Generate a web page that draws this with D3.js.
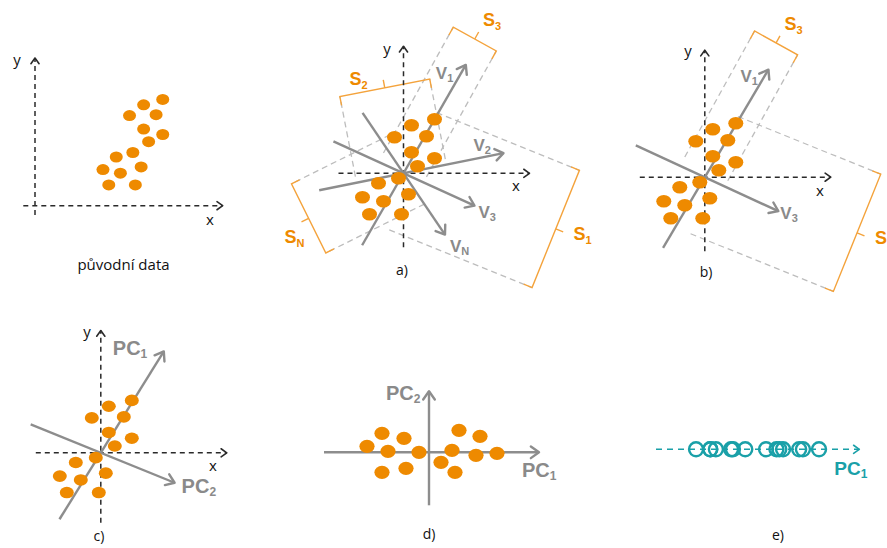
<!DOCTYPE html>
<html>
<head>
<meta charset="utf-8">
<script src="https://cdn.jsdelivr.net/npm/d3@7"></script>
<style>
  body { margin: 0; background: #fff; }
  svg { display: block; }
</style>
</head>
<body>
<svg id="chart" width="887" height="548"></svg>
<script>
// ---- data -------------------------------------------------------------
// Observations, centred on their mean (x, y)
const sampleX = [31, 8, -9, 23, 8, 31, 14, -5, -25, 5, -41, -20, -34, -2];
const sampleY = [54, 48, 36, 37, 21, 15, 7, -5, -10, -21, -24, -28, -41, -41];

// Scores of the same observations on the principal components
const scorePC1 = [-62, -47, -25, -41, -10, -47, -23, 30, 51, 23, 47, 68, 12, 26];
const scorePC2 = [6, 19, 14, 1, 0, -20, -16, 22, 16, 2, -3, -1, -10, -20];

// Candidate directions v_i (degrees, counter-clockwise from x)
const dirSubsA = ["1", "2", "3", "N"];
const dirAnglesA = [60.1, 11.4, -24.5, -55.9];
const dirSubsB = ["1", "3"];
const dirAnglesB = [59.4, -24.8];
// Principal component directions
const pcSubs = ["1", "2"];
const pcAngles = [58.9, -22.7];

// Spread brackets S_i: direction of the guide lines (degrees)
const spreadSubsA = ["1", "2", "3", "N"];
const spreadAnglesA = [-22, 101, 61, -153.6];
const spreadSubsB = ["1", "3"];
const spreadAnglesB = [-22, 61];

// ---- layout -----------------------------------------------------------
const ORANGE = "#ee8a00", GREY = "#8d8d8d", LIGHT = "#bdbdbd", INK = "#2a2a2a",
      TEAL = "#1aa0a8", BRACKET = "#f4a33c", TEXT_GREY = "#8a8a8a";
const SANS = "'Open Sans', 'DejaVu Sans', sans-serif";
const BOLD = "'Liberation Sans', Arial, sans-serif";

const svg = d3.select("#chart");

function frame(ox, oy, kx, ky) {
  return {
    x: d3.scaleLinear().domain([0, 1]).range([ox, ox + kx]),
    y: d3.scaleLinear().domain([0, 1]).range([oy, oy - ky])
  };
}
const fr = {
  raw: frame(137, 148, 0.83, 0.9),
  a: frame(403.5, 173.3, 1, 1),
  b: frame(704.8, 177.2, 1, 1),
  c: frame(100.8, 452.8, 1, 0.97),
  d: frame(429, 452.3, 1, 1),
  e: frame(754.7, 449.3, 0.946, 1)
};

const dirLayoutA = { back: [83, 86, 77, 73], front: [125, 102, 78, 74],
                     dx: [-30, -30, 4, 5], dy: [14, -2, 12, 17] };
const dirLayoutB = { back: [82, 76], front: [125, 81], dx: [-28, 2], dy: [12, 8] };
const pcLayout = { back: [80, 76], front: [122, 80], dx: [-51, 7], dy: [4, 10] };

const spreadLayoutA = { dist: [162, 87.5, 152, 105], margin: [7, 3, 2, 1],
                        start: [8, 6, 8, -5], lw: [27, 13.6, 25, 21], lu: [5, 24, -6, 10.6] };
const spreadLayoutB = { dist: [162, 152], margin: [7, 2], start: [8, 8], lw: [27, 25], lu: [5, -6] };

// ---- helpers ----------------------------------------------------------
function chevron(g, x1, y1, x2, y2, len, color, width) {
  const a = Math.atan2(y2 - y1, x2 - x1), s = 0.62;
  const pts = [[x2 - len * Math.cos(a - s), y2 - len * Math.sin(a - s)], [x2, y2],
               [x2 - len * Math.cos(a + s), y2 - len * Math.sin(a + s)]];
  g.append("path").attr("d", d3.line()(pts)).attr("fill", "none")
    .attr("stroke", color).attr("stroke-width", width)
    .attr("stroke-linecap", "round").attr("stroke-linejoin", "round");
}
function arrow(g, x1, y1, x2, y2, o) {
  g.append("line").attr("x1", x1).attr("y1", y1).attr("x2", x2).attr("y2", y2)
    .attr("stroke", o.color).attr("stroke-width", o.width)
    .attr("stroke-dasharray", o.dash || null);
  chevron(g, x1, y1, x2, y2, o.head, o.color, o.headWidth || o.width);
}
function subLabel(g, x, y, main, sub, o) {
  const t = g.append("text").attr("x", x).attr("y", y)
    .attr("font-family", o.family || BOLD).attr("font-weight", o.weight || "bold")
    .attr("font-size", o.size).attr("fill", o.color)
    .attr("text-anchor", o.anchor || "start");
  t.append("tspan").text(main);
  t.append("tspan").attr("font-size", o.subSize).attr("dy", o.subDy).text(sub);
  return t;
}
function plain(g, x, y, s, size, anchor) {
  g.append("text").attr("x", x).attr("y", y).attr("font-family", SANS)
    .attr("font-size", size).attr("fill", "#111").attr("text-anchor", anchor || "middle").text(s);
}
function dashedAxes(g, f, xr, yr) {
  const o = { color: INK, width: 1.5, dash: "5,4", head: 7, headWidth: 1.6 };
  arrow(g, f.x(xr[0]), f.y(0), f.x(xr[1]), f.y(0), o);
  arrow(g, f.x(0), f.y(yr[0]), f.x(0), f.y(yr[1]), o);
}
function dots(g, f, xs, ys, rx, ry) {
  g.selectAll("ellipse.pt").data(xs.map((v, i) => [v, ys[i]])).join("ellipse")
    .attr("class", "pt").attr("cx", d => f.x(d[0])).attr("cy", d => f.y(d[1]))
    .attr("rx", rx).attr("ry", ry).attr("fill", ORANGE);
}
function directions(g, f, subs, angles, lay, mainTxt, o) {
  subs.forEach((s, i) => {
    const r = angles[i] * Math.PI / 180, c = Math.cos(r), n = Math.sin(r);
    const x1 = f.x(-lay.back[i] * c), y1 = f.y(-lay.back[i] * n);
    const x2 = f.x(lay.front[i] * c), y2 = f.y(lay.front[i] * n);
    arrow(g, x1, y1, x2, y2, { color: GREY, width: 2.4, head: 10 });
    subLabel(g, x2 + lay.dx[i], y2 + lay.dy[i], mainTxt, s, o);
  });
}
function spreads(g, f, subs, angles, lay) {
  const ruleG = g.append("g"), brG = g.append("g");
  subs.forEach((s, i) => {
    const r = angles[i] * Math.PI / 180;
    const w = [Math.cos(r), Math.sin(r)], u = [-Math.sin(r), Math.cos(r)];
    const proj = sampleX.map((x, k) => x * u[0] + sampleY[k] * u[1]);
    const lo = d3.min(proj) - lay.margin[i], hi = d3.max(proj) + lay.margin[i];
    const P = (p, q) => [f.x(p * u[0] + q * w[0]), f.y(p * u[1] + q * w[1])];
    const D = lay.dist[i], h = 9, mid = (lo + hi) / 2;
    [lo, hi].forEach(p => {
      ruleG.append("path").attr("d", d3.line()([P(p, lay.start[i]), P(p, D)]))
        .attr("stroke", LIGHT).attr("stroke-width", 1.3).attr("stroke-dasharray", "6,4")
        .attr("fill", "none");
    });
    brG.append("path").attr("d", d3.line()([P(lo, D - h), P(lo, D), P(hi, D), P(hi, D - h)]))
      .attr("stroke", BRACKET).attr("stroke-width", 1.4).attr("fill", "none");
    brG.append("path").attr("d", d3.line()([P(mid, D), P(mid, D + 8)]))
      .attr("stroke", BRACKET).attr("stroke-width", 1.4).attr("fill", "none");
    const L = P(mid + lay.lu[i], D + lay.lw[i]);
    subLabel(brG, L[0], L[1] + 6, "S", s,
      { size: 18, subSize: 11, subDy: 4, color: ORANGE, anchor: "middle" });
  });
}

const vFont = { size: 17, subSize: 11, subDy: 3, color: TEXT_GREY };
const pcFont = { size: 20, subSize: 12, subDy: 3, color: TEXT_GREY };
const AX = [-65, 126], AY = [-74, 127];

// ---- original data ----------------------------------------------------
{
  const g = svg.append("g"), f = fr.raw;
  const o = { color: INK, width: 1.5, dash: "5,4", head: 7, headWidth: 1.6 };
  arrow(g, 23.3, 205.7, 222.7, 205.7, o);
  arrow(g, 35, 215, 35, 58, o);
  plain(g, 17, 65, "y", 15);
  plain(g, 210, 225, "x", 15);
  dots(g, f, sampleX, sampleY, 6.5, 5.5);
  plain(g, 123.5, 270, "původní data", 15);
}

// ---- a) all candidate directions --------------------------------------
{
  const g = svg.append("g"), f = fr.a;
  spreads(g, f, spreadSubsA, spreadAnglesA, spreadLayoutA);
  dashedAxes(g, f, AX, AY);
  directions(g, f, dirSubsA, dirAnglesA, dirLayoutA, "V", vFont);
  dots(g, f, sampleX, sampleY, 7.5, 6.3);
  plain(g, 387, 54, "y", 15);
  plain(g, 516, 191, "x", 15);
  plain(g, 402, 275, "a)", 14);
}

// ---- b) the two extreme directions ------------------------------------
{
  const g = svg.append("g"), f = fr.b;
  spreads(g, f, spreadSubsB, spreadAnglesB, spreadLayoutB);
  dashedAxes(g, f, AX, AY);
  directions(g, f, dirSubsB, dirAnglesB, dirLayoutB, "V", vFont);
  dots(g, f, sampleX, sampleY, 7.5, 6.3);
  plain(g, 688, 56, "y", 15);
  plain(g, 820, 196, "x", 15);
  plain(g, 706, 277, "b)", 14);
}

// ---- c) principal components ------------------------------------------
{
  const g = svg.append("g"), f = fr.c;
  dashedAxes(g, f, AX, [-72, 126]);
  directions(g, f, pcSubs, pcAngles, pcLayout, "PC", pcFont);
  dots(g, f, sampleX, sampleY, 7, 5.8);
  plain(g, 87, 337, "y", 15);
  plain(g, 213, 471, "x", 15);
  plain(g, 99, 541, "c)", 14);
}

// ---- d) data in PC coordinates ----------------------------------------
{
  const g = svg.append("g"), f = fr.d;
  const o = { color: GREY, width: 2.4, head: 10 };
  arrow(g, f.x(-105), f.y(0), f.x(110), f.y(0), o);
  arrow(g, f.x(0), f.y(-53), f.x(0), f.y(61), o);
  dots(g, f, scorePC1, scorePC2, 7.6, 6.6);
  subLabel(g, f.x(0) - 43, f.y(61) + 9, "PC", "2", pcFont);
  subLabel(g, f.x(110) - 17, f.y(0) + 25, "PC", "1", pcFont);
  plain(g, 429, 539, "d)", 14);
}

// ---- e) projection onto PC1 -------------------------------------------
{
  const g = svg.append("g"), f = fr.e;
  const x0 = 656, x1 = 859.3, y = f.y(0);
  arrow(g, x0, y, x1, y, { color: TEAL, width: 1.5, dash: "6,5", head: 7, headWidth: 1.6 });
  g.selectAll("circle.s").data(scorePC1).join("circle").attr("class", "s")
    .attr("cx", d => f.x(d)).attr("cy", y).attr("r", 7)
    .attr("fill", "none").attr("stroke", TEAL).attr("stroke-width", 2.4);
  subLabel(g, x1 - 25, y + 26, "PC", "1", { size: 19, subSize: 12, subDy: 3, color: TEAL });
  plain(g, 778, 540, "e)", 14);
}
</script>
</body>
</html>
